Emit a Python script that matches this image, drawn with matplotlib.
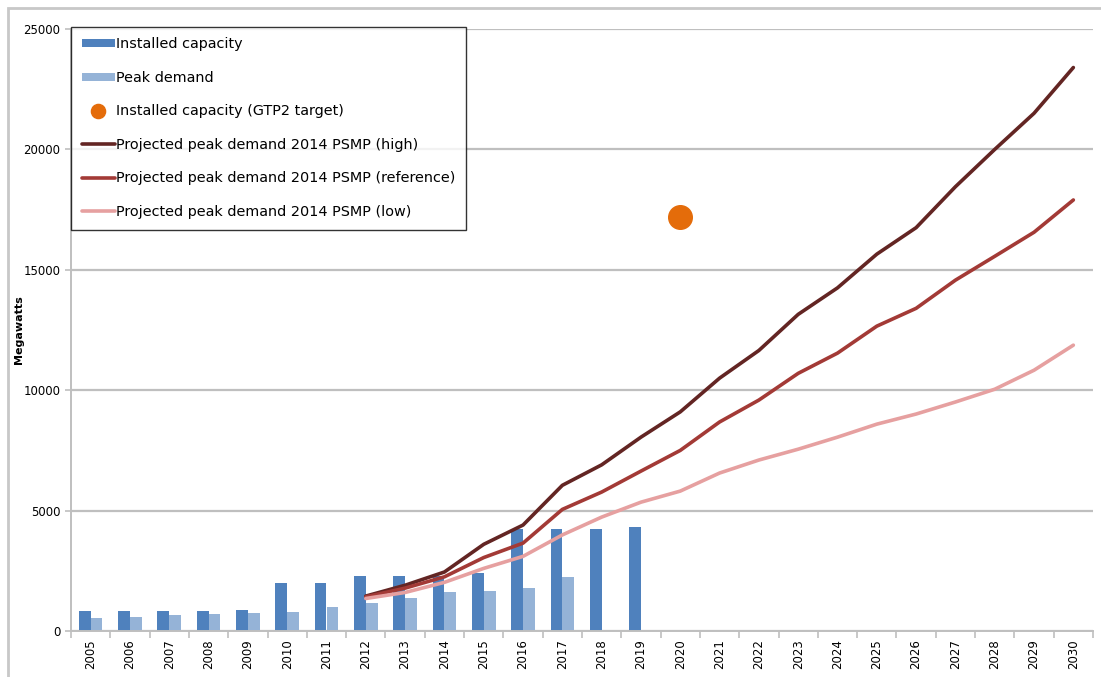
import numpy as np
import matplotlib
matplotlib.use("Agg")
import matplotlib.pyplot as plt
from matplotlib.patches import Rectangle

years = [str(y) for y in range(2005, 2031)]

# installed capacity, 2005-2019 (MW)
installed = [810, 810, 810, 810, 870, 2000, 2000, 2270, 2270, 2270, 2420,
             4230, 4230, 4230, 4300]
# peak demand, 2005-2017 (MW)
peak = [530, 600, 660, 720, 740, 790, 980, 1150, 1380, 1600, 1680, 1800, 2230]

# GTP2 target for 2020
gtp2_year = "2020"
gtp2_value = 17200

# 2014 PSMP projections, 2012-2030
proj_years = [str(y) for y in range(2012, 2031)]
proj_high = [1450, 1900, 2450, 3600, 4400, 6050, 6900, 8050, 9100, 10500,
             11650, 13150, 14250, 15650, 16750, 18450, 20000, 21500, 23400]
proj_ref = [1420, 1780, 2250, 3050, 3650, 5050, 5770, 6640, 7500, 8680,
            9590, 10700, 11540, 12660, 13400, 14570, 15560, 16560, 17900]
proj_low = [1350, 1600, 2020, 2600, 3100, 3990, 4730, 5350, 5810, 6560,
            7100, 7550, 8050, 8590, 9010, 9510, 10040, 10830, 11870]

plt.rcParams['font.family'] = ['DejaVu Sans']

fig = plt.figure(figsize=(11.01, 6.77), dpi=100)
ax = fig.add_axes([71 / 1101, 1 - 631 / 677, 1022 / 1101, 602 / 677])

x = np.arange(len(years))
idx = {y: i for i, y in enumerate(years)}

b1 = ax.bar(x[:len(installed)] - 0.15, installed, width=0.3, color='#4F81BD',
            label='Installed capacity', zorder=2)
b2 = ax.bar(x[:len(peak)] + 0.15, peak, width=0.3, color='#95B3D7',
            label='Peak demand', zorder=2)
dot, = ax.plot([idx[gtp2_year]], [gtp2_value], 'o', color='#E46C0A',
               markersize=17, label='Installed capacity (GTP2 target)', zorder=4)

px = [idx[y] for y in proj_years]
l1, = ax.plot(px, proj_high, color='#632523', lw=2.6, solid_capstyle='round',
              label='Projected peak demand 2014 PSMP (high)', zorder=3)
l2, = ax.plot(px, proj_ref, color='#A33A36', lw=2.6, solid_capstyle='round',
              label='Projected peak demand 2014 PSMP (reference)', zorder=3)
l3, = ax.plot(px, proj_low, color='#E6A0A0', lw=2.6, solid_capstyle='round',
              label='Projected peak demand 2014 PSMP (low)', zorder=3)

ax.set_xlim(-0.5, len(years) - 0.5)
ax.set_ylim(0, 25000)
ax.set_yticks(range(0, 25001, 5000))
ax.tick_params(axis='y', labelsize=8.5, length=4, color='#BFBFBF', width=1.2)
ax.yaxis.grid(True, color='#BFBFBF', lw=1.6)
ax.set_axisbelow(True)

ax.set_xticks(np.arange(-0.5, len(years)), labels=[])
ax.set_xticks(x, labels=years, minor=True, rotation=90, fontsize=8.5)
ax.tick_params(axis='x', which='major', length=5, color='#BFBFBF', width=1.2)
ax.tick_params(axis='x', which='minor', length=0, pad=6)

for s in ['top', 'right']:
    ax.spines[s].set_visible(False)
for s in ['left', 'bottom']:
    ax.spines[s].set_color('#BFBFBF')
    ax.spines[s].set_linewidth(1.4)

ax.set_ylabel('Megawatts', fontsize=8, fontweight='bold')
ax.yaxis.set_label_coords(-47 / 1022, 0.5)

leg = ax.legend([b1, b2, dot, l1, l2, l3],
                [h.get_label() for h in [b1, b2, dot, l1, l2, l3]],
                loc='upper left', bbox_to_anchor=(0, 1.004), borderaxespad=0,
                fontsize=10.4, frameon=True, fancybox=False, edgecolor='black',
                labelspacing=1.35, handlelength=2.3, handletextpad=0.05,
                borderpad=0.75, handleheight=0.45, markerscale=0.6)
leg.get_frame().set_linewidth(1.0)
leg.set_zorder(5)

fig.patches.append(Rectangle((8 / 1101, -0.1), 1.2, 1.1 - 8 / 677,
                             transform=fig.transFigure, fill=False,
                             edgecolor='#C8C8C8', lw=2))

fig.savefig('out.png', dpi=100)
